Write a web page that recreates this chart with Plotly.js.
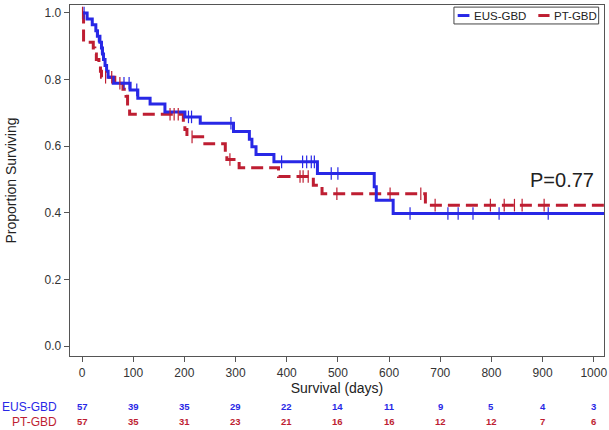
<!DOCTYPE html>
<html>
<head>
<meta charset="utf-8">
<script src="https://cdn.plot.ly/plotly-3.0.1.min.js"></script>
<style>html,body{margin:0;padding:0;background:#fff}#chart{width:609px;height:430px}</style>
</head>
<body>
<div id="chart"></div>
<script>
// Kaplan-Meier steps (day, survival after the event)
const eusDays = [0, 10, 20, 27, 30, 35, 38, 40, 42, 45, 48, 51, 61, 94, 109, 133, 162, 201, 231, 296, 327, 332, 340, 375, 460, 571, 575, 608];
const eusSurv = [1.0, 0.982, 0.965, 0.947, 0.930, 0.912, 0.895, 0.877, 0.860, 0.842, 0.825, 0.807, 0.789, 0.769, 0.744, 0.727, 0.703, 0.688, 0.669, 0.644, 0.621, 0.598, 0.575, 0.553, 0.518, 0.478, 0.438, 0.398];
const eusCensor = [4, 32, 38, 82, 92, 107, 208, 214, 291, 390, 431, 439, 448, 454, 487, 500, 641, 715, 735, 764, 815, 911];
const ptDays = [0, 3, 22, 25, 28, 33, 36, 38, 64, 80, 86, 89, 93, 198, 201, 205, 240, 280, 283, 307, 384, 452, 469, 671];
const ptSurv = [1.0, 0.912, 0.895, 0.877, 0.860, 0.842, 0.825, 0.807, 0.789, 0.771, 0.750, 0.722, 0.696, 0.672, 0.650, 0.628, 0.607, 0.583, 0.560, 0.535, 0.509, 0.483, 0.457, 0.423];
const ptCensor = [1, 46, 58, 74, 172, 180, 188, 215, 289, 426, 432, 442, 498, 602, 662, 690, 798, 825, 845, 860, 903];
const followEnd = 1020;

const riskTimes = [0, 100, 200, 300, 400, 500, 600, 700, 800, 900, 1000];
const riskEUS = [57, 39, 35, 29, 22, 14, 11, 9, 5, 4, 3];
const riskPT = [57, 35, 31, 23, 21, 16, 16, 12, 12, 7, 6];
const groupNames = ['EUS-GBD', 'PT-GBD'];
const pValueText = 'P=0.77';

const BLUE = 'rgb(40,40,230)';
const RED = 'rgb(190,30,50)';
const FONT = 'Liberation Sans, Arial, sans-serif';

function survAt(days, surv, t) {
  let s = surv[0];
  for (let i = 0; i < days.length; i++) { if (days[i] <= t) s = surv[i]; }
  return s;
}
function stepXY(days, surv) {
  return {x: days.concat([followEnd]), y: surv.concat([surv[surv.length - 1]])};
}
const eusStep = stepXY(eusDays, eusSurv);
const ptStep = stepXY(ptDays, ptSurv);

const traces = [
  {x: ptStep.x, y: ptStep.y, mode: 'lines', name: groupNames[1], line: {shape: 'hv', color: RED, width: 3, dash: '12px,6px'}, showlegend: false, hoverinfo: 'skip'},
  {x: eusStep.x, y: eusStep.y, mode: 'lines', name: groupNames[0], line: {shape: 'hv', color: BLUE, width: 3}, showlegend: false, hoverinfo: 'skip'},
  {x: eusCensor, y: eusCensor.map(t => survAt(eusDays, eusSurv, t)), mode: 'markers',
   marker: {symbol: 'line-ns-open', size: 9, color: BLUE, line: {color: BLUE, width: 1.2}}, showlegend: false},
  {x: ptCensor, y: ptCensor.map(t => survAt(ptDays, ptSurv, t)), mode: 'markers',
   marker: {symbol: 'line-ns-open', size: 9, color: RED, line: {color: RED, width: 1.2}}, showlegend: false}
];

// legend drawn as a small box in paper coordinates
const shapes = [
  {type: 'rect', xref: 'paper', yref: 'paper', x0: 0.719, x1: 0.990, y0: 0.946, y1: 0.994, line: {color: '#444', width: 1}, fillcolor: '#fff'},
  {type: 'line', xref: 'paper', yref: 'paper', x0: 0.726, x1: 0.748, y0: 0.970, y1: 0.970, line: {color: BLUE, width: 3}},
  {type: 'line', xref: 'paper', yref: 'paper', x0: 0.877, x1: 0.898, y0: 0.970, y1: 0.970, line: {color: RED, width: 3}}
];

const annotations = [
  {x: 0.753, y: 0.970, xref: 'paper', yref: 'paper', xanchor: 'left', yanchor: 'middle', text: groupNames[0], showarrow: false, font: {family: FONT, size: 11.5, color: '#222'}},
  {x: 0.903, y: 0.970, xref: 'paper', yref: 'paper', xanchor: 'left', yanchor: 'middle', text: groupNames[1], showarrow: false, font: {family: FONT, size: 11.5, color: '#222'}},
  {x: 938, y: 0.50, xref: 'x', yref: 'y', text: pValueText, showarrow: false, font: {family: FONT, size: 20, color: '#222'}}
];
const rowY = [-0.145, -0.1875];
[riskEUS, riskPT].forEach((row, r) => {
  const col = r === 0 ? BLUE : RED;
  annotations.push({x: 0, xref: 'paper', xanchor: 'right', xshift: -11, y: rowY[r], yref: 'paper', yanchor: 'middle', text: groupNames[r],
    showarrow: false, font: {family: FONT, size: 12, color: col}});
  riskTimes.forEach((t, i) => {
    annotations.push({x: t, xref: 'x', y: rowY[r], yref: 'paper', yanchor: 'middle', text: '<b>' + row[i] + '</b>', showarrow: false,
      font: {family: FONT, size: 9.5, color: col}});
  });
});

const layout = {
  width: 609, height: 430,
  margin: {l: 70, r: 5, t: 5, b: 74},
  paper_bgcolor: '#fff', plot_bgcolor: '#fff',
  font: {family: FONT, size: 12, color: '#333'},
  xaxis: {range: [-23.5, 1020], tickvals: riskTimes, ticks: 'outside', ticklen: 5, tickcolor: '#555',
    showgrid: false, zeroline: false, showline: true, mirror: true, linecolor: '#555', linewidth: 1.3,
    tickfont: {size: 12, color: '#333'}, title: {text: 'Survival (days)', font: {size: 14, color: '#222'}, standoff: 3}},
  yaxis: {range: [-0.03, 1.024], tickvals: [0, 0.2, 0.4, 0.6, 0.8, 1.0], tickformat: '.1f', ticks: 'outside', ticklen: 5,
    tickcolor: '#555', showgrid: false, zeroline: false, showline: true, mirror: true, linecolor: '#555', linewidth: 1.3,
    tickfont: {size: 12, color: '#333'}, title: {text: 'Proportion Surviving', font: {size: 14, color: '#222'}, standoff: 24}},
  shapes: shapes,
  annotations: annotations,
  showlegend: false
};

Plotly.newPlot('chart', traces, layout, {displayModeBar: false, staticPlot: true});
</script>
</body>
</html>
